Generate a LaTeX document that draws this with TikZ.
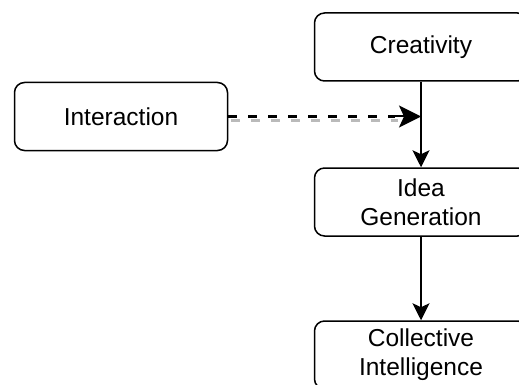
\documentclass[tikz,border=0pt]{standalone}
\usepackage{fontspec}
\setmainfont{Liberation Sans}
\usetikzlibrary{arrows.meta}
\begin{document}
\begin{tikzpicture}[x=1pt,y=-1pt,
  box/.style={draw=black, line width=1.5pt, rounded corners=10pt, fill=white,
    minimum width=213pt, minimum height=68pt, align=center, inner sep=0pt,
    font=\fontsize{24.5}{29}\selectfont},
  tip/.style={-{Stealth[length=17pt,width=17pt,inset=4pt]}},
  bigtip/.style={-{Stealth[length=22pt,width=22pt,inset=5pt]}},
  flow/.style={draw=black, line width=1.4pt, tip},
  dashline/.style={line width=3pt, dash pattern=on 9pt off 11pt}]
\useasboundingbox (0,0) rectangle (519,385);
\node[box] (inter) at (121,116.5) {Interaction};
\node[box] (creat) at (421,47) {Creativity};
\node[box] (idea) at (421,202) {Idea\\Generation};
\node[box] (coll) at (421,355) {Collective\\Intelligence};
\coordinate (m) at (creat.south |- inter.east);
\coordinate (mt) at ([xshift=-30pt]m);
\coordinate (ms) at ([xshift=-26pt]m);
\draw[flow] (creat.south) -- (idea.north);
\draw[flow] (idea.south) -- (coll.north);
\draw[dashline, draw=black!27] ([shift={(2.5,4.5)}]inter.east) -- ([shift={(2.5,4.5)}]ms);
\draw[dashline, draw=black] (inter.east) -- (ms);
\draw[draw=black, fill=black, line width=2pt, bigtip] (mt) -- (m);
\end{tikzpicture}
\end{document}
